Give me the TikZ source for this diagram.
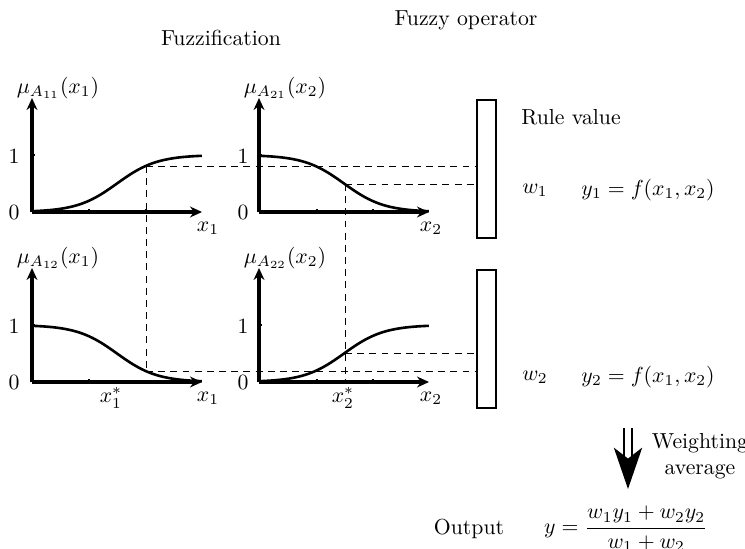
\documentclass[tikz,border=0pt]{standalone}
\usetikzlibrary{arrows.meta,positioning}

\begin{document}
\begin{tikzpicture}[
  x=0.46pt, y=-0.46pt,
  axis/.style={line width=1.5pt, -{Stealth[length=5.5pt,width=5pt]}},
  curve/.style={line width=1.2pt},
  guide/.style={line width=0.45pt, dash pattern=on 3.2pt off 2.4pt},
  tickmark/.style={line width=0.5pt},
  rulebox/.style={draw, line width=1pt, minimum width=9pt, minimum height=63.8pt, inner sep=0pt},
  lbl/.style={inner sep=1pt},
  bigarrow/.style={double, double distance=2.4pt, line width=0.9pt,
    -{Stealth[length=19pt,width=13pt,inset=5pt]}}
]
\useasboundingbox (0,0) rectangle (745,548);

% headings
\node (fuzz) at (221,38) {Fuzzification};
\node (fop) at (466,20) {Fuzzy operator};

% origins of the four membership plots
\coordinate (o11) at (32,212);
\coordinate (o21) at (259,212);
\coordinate (o12) at (32,382);
\coordinate (o22) at (259,382);

% axes
\draw[axis] (o11) -- ++(0,-114);
\draw[axis] (o11) -- ++(170,0);
\draw[axis] (o21) -- ++(0,-114);
\draw[axis] (o21) -- ++(170,0);
\draw[axis] (o12) -- ++(0,-114);
\draw[axis] (o12) -- ++(170,0);
\draw[axis] (o22) -- ++(0,-114);
\draw[axis] (o22) -- ++(170,0);

% ticks
\draw[tickmark] (89,212) -- ++(0,-3);
\draw[tickmark] (146,212) -- ++(0,-3);
\draw[tickmark] (317,212) -- ++(0,-3);
\draw[tickmark] (373,212) -- ++(0,-3);
\draw[tickmark] (89,382) -- ++(0,-3);
\draw[tickmark] (317,382) -- ++(0,-3);
\draw[tickmark] (373,382) -- ++(0,-3);
\draw[tickmark] (32,155) -- ++(3,0);
\draw[tickmark] (259,155) -- ++(3,0);
\draw[tickmark] (32,325) -- ++(3,0);
\draw[tickmark] (259,325) -- ++(3,0);

% membership functions
\draw[curve] plot[domain=0:1, samples=60, smooth] ({32+170*\x}, {212-57/(1+exp(-8.5*(\x-0.5)))});
\draw[curve] plot[domain=0:1, samples=60, smooth] ({259+170*\x}, {155+57/(1+exp(-8.5*(\x-0.5)))});
\draw[curve] plot[domain=0:1, samples=60, smooth] ({32+170*\x}, {325+57/(1+exp(-8.5*(\x-0.5)))});
\draw[curve] plot[domain=0:1, samples=60, smooth] ({259+170*\x}, {382-57/(1+exp(-8.5*(\x-0.5)))});

% axis labels
\node[lbl] (mu11) at (58,88) {$\mu_{A_{11}}(x_1)$};
\node[lbl] (mu21) at (285,88) {$\mu_{A_{21}}(x_2)$};
\node[lbl] (mu12) at (58,258) {$\mu_{A_{12}}(x_1)$};
\node[lbl] (mu22) at (285,258) {$\mu_{A_{22}}(x_2)$};

\node[lbl] (one11) at (14,156) {1};
\node[lbl] (zero11) at (14,212) {0};
\node[lbl] (one21) at (243,156) {1};
\node[lbl] (zero21) at (243,212) {0};
\node[lbl] (one12) at (14,326) {1};
\node[lbl] (zero12) at (14,382) {0};
\node[lbl] (one22) at (243,326) {1};
\node[lbl] (zero22) at (243,382) {0};

\node[lbl] (xa) at (208,228) {$x_1$};
\node[lbl] (xb) at (431,228) {$x_2$};
\node[lbl] (xc) at (208,398) {$x_1$};
\node[lbl] (xd) at (431,398) {$x_2$};
\node[lbl] (xstar1) at (111,398) {$x_1^*$};
\node[lbl] (xstar2) at (343,398) {$x_2^*$};

% rule boxes
\node[rulebox] (box1) at (486.5,169) {};
\node[rulebox] (box2) at (486.5,339) {};

% membership grades
\coordinate (m11) at (146,166);
\coordinate (m21) at (345,184);
\coordinate (m12) at (146,371);
\coordinate (m22) at (345,353);
\coordinate (x2foot) at (345,382);

\draw[guide] (m11) -- (m12);
\draw[guide] (m21) -- (x2foot);
\draw[guide] (m11) -- (m11 -| box1.west);
\draw[guide] (m21) -- (m21 -| box1.west);
\draw[guide] (m22) -- (m22 -| box2.west);
\draw[guide] (m12) -- (m12 -| box2.west);

% rule side
\node (rval) at (571,117) {Rule value};
\node (w1) at (535,190) {$w_1$};
\node (y1) at (648,190) {$y_1=f(x_1,x_2)$};
\node (w2) at (535,377) {$w_2$};
\node (y2) at (648,377) {$y_2=f(x_1,x_2)$};

% weighting
\coordinate (avgtop) at (628,428);
\coordinate (avgtip) at (628,489);
\draw[bigarrow] (avgtop) -- (avgtip);
\node[align=center] (wavg) at (700,456) {Weighting\\average};

% output
\node[anchor=base] (out) at (469,534) {Output};
\node[anchor=base] (yout) at (626,533.5) {$\displaystyle y=\frac{w_1y_1+w_2y_2}{w_1+w_2}$};

\end{tikzpicture}
\end{document}
